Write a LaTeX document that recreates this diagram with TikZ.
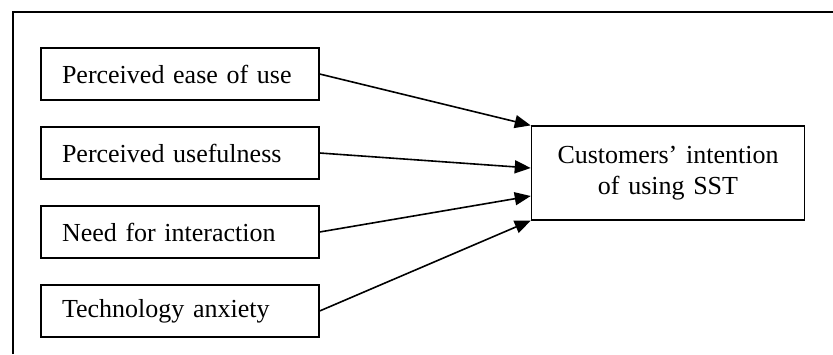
\documentclass[tikz,border=0pt]{standalone}
\usepackage{fontspec}
\setmainfont{Liberation Serif}
\usetikzlibrary{positioning, arrows.meta}

\begin{document}
\begin{tikzpicture}[node distance=39.5pt and 244pt, on grid, every node/.style={font=\fontsize{13}{15.8}\selectfont}, >={Triangle[length=8pt,width=6.5pt]}]
  \useasboundingbox (0,0) rectangle (416.5pt,-177pt);
  \draw[line width=1pt] (6.5pt,-177pt) |- (416.5pt,-6pt);

  \node[draw, line width=0.6pt, text width=118pt, inner xsep=10.5pt, minimum height=26pt, align=left] (ease) at (90pt,-37pt) {Perceived ease of use};
  \node[draw, line width=0.6pt, text width=118pt, inner xsep=10.5pt, minimum height=26pt, align=left, below=of ease] (useful) {Perceived usefulness};
  \node[draw, line width=0.6pt, text width=118pt, inner xsep=10.5pt, minimum height=26pt, align=left, below=of useful] (inter) {Need for interaction};
  \node[draw, line width=0.6pt, text width=118pt, inner xsep=10.5pt, minimum height=26pt, align=left, below=of inter] (anx) {Technology anxiety};

  \node[draw, line width=0.6pt, text width=130pt, minimum height=47pt, align=center, right=of useful, yshift=-10pt] (intent) {Customers' intention\\of using SST};

  \draw[->, line width=0.8pt] (ease.east) -- (intent.north west);
  \draw[->, line width=0.8pt] (useful.east) -- ([yshift=2.5pt]intent.west);
  \draw[->, line width=0.8pt] (inter.east) -- ([yshift=-11.5pt]intent.west);
  \draw[->, line width=0.8pt] (anx.east) -- (intent.south west);
\end{tikzpicture}
\end{document}
